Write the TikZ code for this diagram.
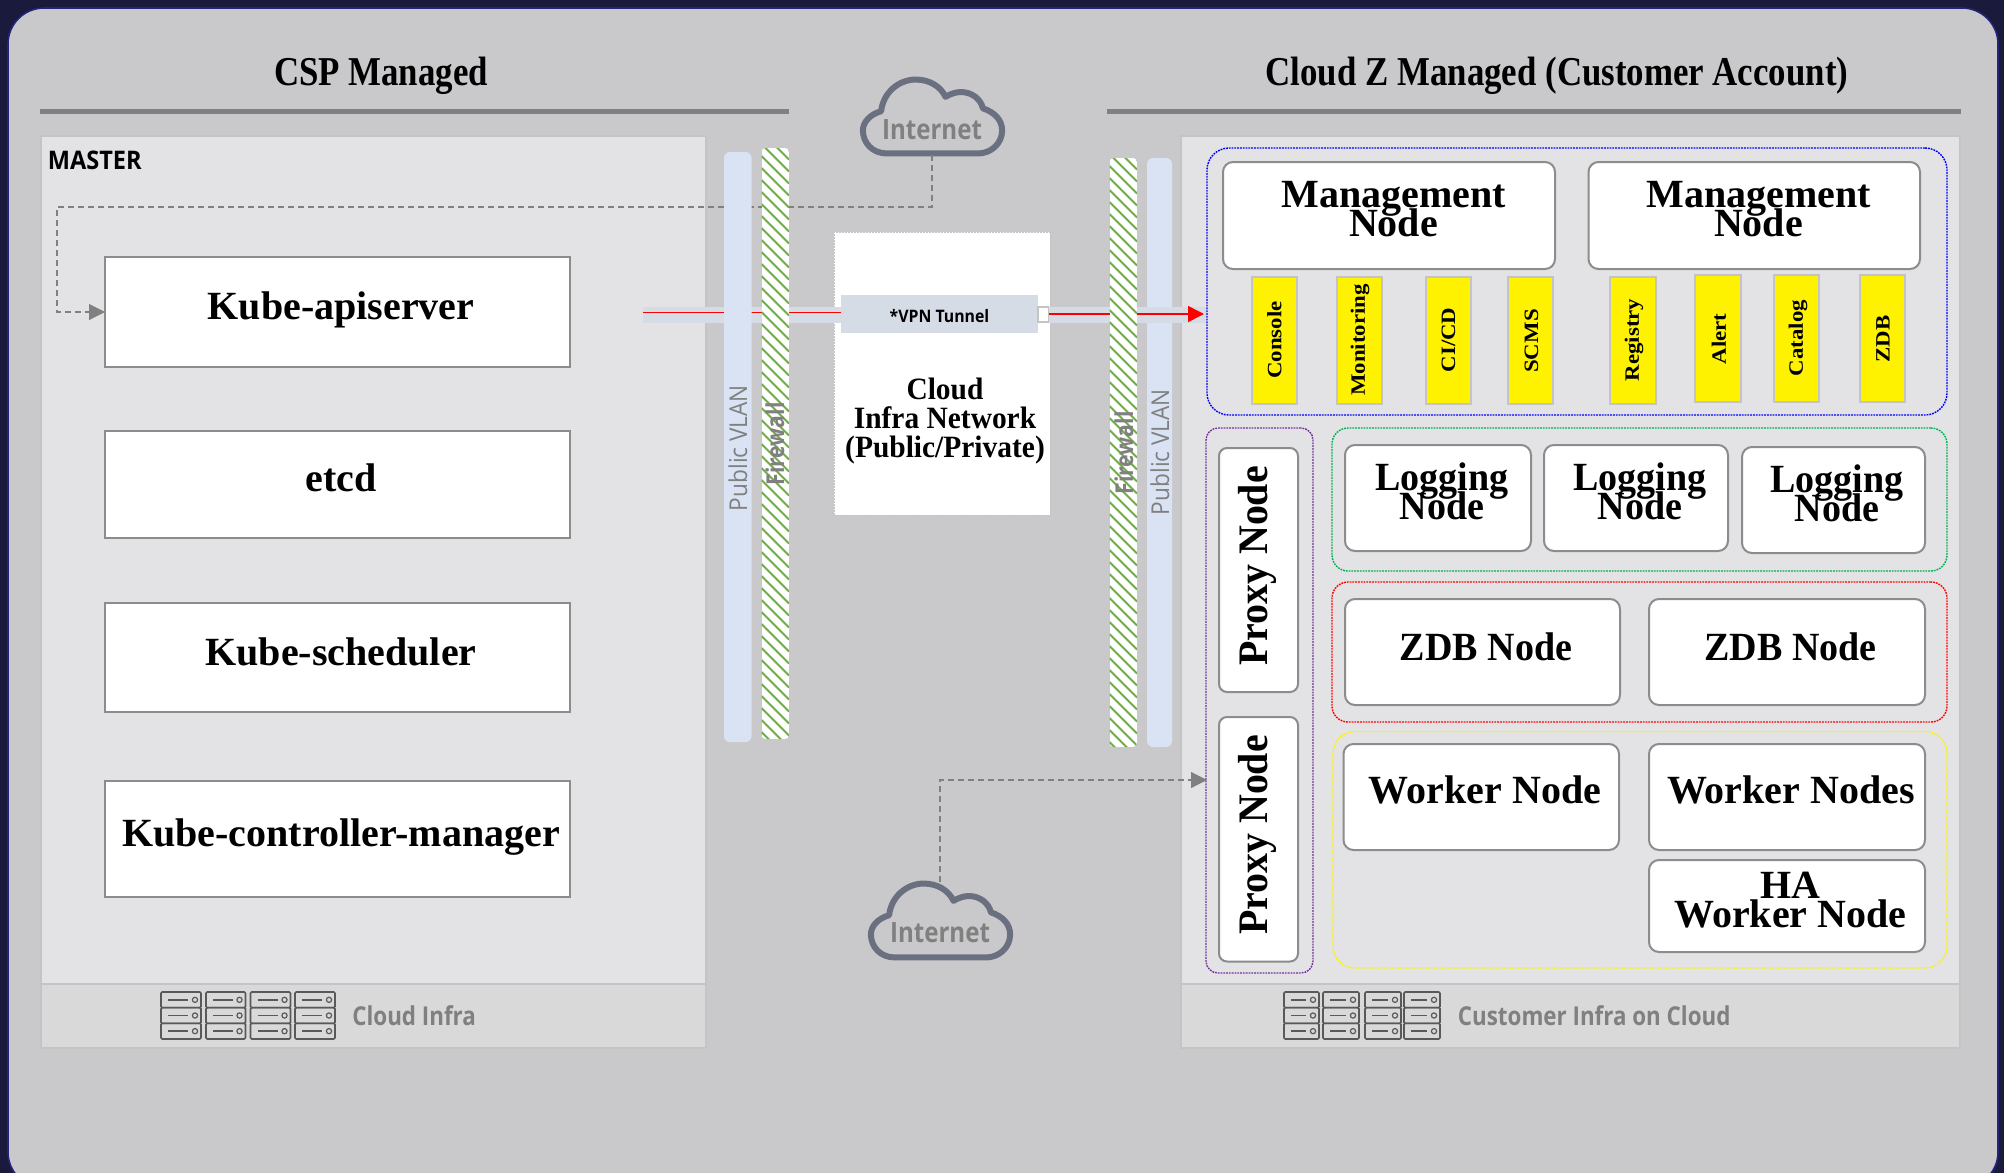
\documentclass[tikz,border=0pt]{standalone}
\usepackage{fontspec}
\usetikzlibrary{arrows.meta,calc}
\setmainfont{Liberation Serif}
\newfontfamily\serc[FakeStretch=0.85]{Liberation Serif}
\newfontfamily\serd[FakeStretch=0.95]{Liberation Serif}
\newfontfamily\sere[FakeStretch=1.12]{Liberation Serif}
\newfontfamily\sers[FakeStretch=0.86]{Open Sans}
\newfontfamily\sersb[FakeStretch=0.92]{Open Sans}
\definecolor{navy}{HTML}{191A3C}
\definecolor{navyedge}{HTML}{24247A}
\definecolor{pagegray}{HTML}{C9C9CB}
\definecolor{panelgray}{HTML}{E3E3E5}
\definecolor{footgray}{HTML}{D9D9D9}
\definecolor{edgegray}{HTML}{C4C4C4}
\definecolor{linegray}{HTML}{808080}
\definecolor{boxedge}{HTML}{8C8C8C}
\definecolor{vlanblue}{HTML}{DAE3F3}
\definecolor{bandblue}{HTML}{D6DCE5}
\definecolor{fwgreen}{HTML}{70AD47}
\definecolor{cloudedge}{HTML}{6B7080}
\definecolor{servedge}{HTML}{595959}
\definecolor{grpgreen}{HTML}{00B050}
\definecolor{grppurple}{HTML}{7030A0}
\tikzset{
  x=0.5pt,y=-0.5pt,
  anybox/.style={inner sep=0pt,outer sep=0pt,line width=1pt},
  sqbox/.style={anybox,draw=boxedge,fill=white},
  rdbox/.style={anybox,draw=boxedge,fill=white,rounded corners=5pt},
  ybox/.style={anybox,draw=edgegray,fill=yellow},
  grp/.style={anybox,line width=0.7pt,dash pattern=on 0.9pt off 0.5pt,rounded corners=11pt},
  panel/.style={anybox,draw=edgegray,fill=panelgray},
  foot/.style={anybox,draw=edgegray,fill=footgray},
  vlan/.style={anybox,fill=vlanblue,rounded corners=3pt},
  head/.style={font=\serc\bfseries\fontsize{20.5pt}{22pt}\selectfont,inner sep=0pt},
  big/.style={font=\bfseries\fontsize{20pt}{14.5pt}\selectfont,inner sep=0pt,align=center,execute at begin node={\lineskiplimit=-50pt\lineskip=0pt}},
  bignar/.style={big,font=\serd\bfseries\fontsize{20pt}{14.5pt}\selectfont},
  tag/.style={font=\sere\bfseries\fontsize{10.2pt}{11pt}\selectfont,inner sep=0pt,rotate=90},
  graytxt/.style={font=\sers\fontsize{12.5pt}{16pt}\selectfont,text=linegray,inner sep=0pt},
  nettxt/.style={graytxt,font=\sers\bfseries\fontsize{14pt}{16pt}\selectfont},
  foottxt/.style={graytxt,anchor=west,font=\sers\bfseries\fontsize{13pt}{15pt}\selectfont},
  dashline/.style={draw=linegray,line width=0.55pt,dash pattern=on 3pt off 2pt,-{Triangle[length=8pt,width=8pt,fill=linegray]}},
  redline/.style={draw=red,line width=0.75pt},
  cloudline/.style={draw=cloudedge,line width=3pt,line join=round},
}
% box given by its corners in reference pixels
\newcommand\pxbox[6]{%
  \pgfmathsetmacro\bw{(#5-#3)*0.5}\pgfmathsetmacro\bh{(#6-#4)*0.5}%
  \pgfmathsetmacro\bx{(#3+#5)/2}\pgfmathsetmacro\by{(#4+#6)/2}%
  \node[#2,minimum width=\bw pt,minimum height=\bh pt] (#1) at (\bx,\by) {};}
\newcommand\cloudpath{(885,155) .. controls (870,155) and (860,144) .. (860,131) .. controls (860,122) and (868,114) .. (879,111) .. controls (881,92) and (897,78) .. (915,78) .. controls (929,78) and (941,85) .. (946,96) .. controls (951,93) and (957,91) .. (962,91) .. controls (974,91) and (983,99) .. (985,108) .. controls (997,112) and (1005,120) .. (1005,131) .. controls (1005,145) and (993,155) .. (980,155) -- cycle}
% firewall strip
\newcommand\fwall[4]{%
  \begin{scope}
    \path[rounded corners=2pt,clip] (#1,#2) rectangle (#3,#4);
    \fill[white] (#1,#2) rectangle (#3,#4);
    \pgfmathtruncatemacro\fwstart{#2-40}
    \pgfmathtruncatemacro\fwnext{#2-40+12}
    \pgfmathtruncatemacro\fwend{#4+40}
    \foreach \yy in {\fwstart,\fwnext,...,\fwend}
      \draw[fwgreen,line width=1pt] (#1,\yy) -- (#3,\yy+#3-#1);
  \end{scope}}
% server rack icon
\newcommand\serv[2]{%
  \foreach \r in {0,1,2}{%
    \pgfmathsetmacro\ya{992+\r*15.67}\pgfmathsetmacro\yb{\ya+15.67}\pgfmathsetmacro\ym{(\ya+\yb)/2}%
    \draw[servedge,line width=0.8pt,rounded corners=0.6pt] (#1,\ya) rectangle (#2,\yb);
    \draw[servedge,line width=0.9pt] (#1+7,\ym) -- (#2-13,\ym);
    \draw[servedge,line width=0.6pt] (#2-6,\ym) circle[radius=2.6];
  }}
\begin{document}
\begin{tikzpicture}
\useasboundingbox (0,0) rectangle (2004,1173);
\fill[navy] (0,0) rectangle (2004,1173);
\begin{scope}
\clip (0,0) rectangle (2004,1173);
\draw[navyedge,fill=pagegray,line width=0.8pt,rounded corners=18pt] (8,8) rectangle (1998,1188);
\end{scope}

% titles
\node[head] (tcsp) at (381,76) {CSP Managed};
\node[head] (tcz) at (1557,76) {Cloud Z Managed (Customer Account)};
\pxbox{rulel}{anybox,fill=linegray,line width=0pt}{40}{108.5}{789}{113.5}
\pxbox{ruler}{anybox,fill=linegray,line width=0pt}{1107}{108.5}{1961}{113.5}

% panels
\pxbox{pmaster}{panel}{40.5}{136}{706}{984}
\pxbox{fmaster}{foot}{40.5}{984}{706}{1048}
\pxbox{pcust}{panel}{1181}{136}{1960}{984}
\pxbox{fcust}{foot}{1181}{984}{1960}{1048}
\node[font=\sersb\bfseries\fontsize{12.8pt}{13pt}\selectfont,anchor=west,inner sep=0pt] (tmaster) at (47.5,160) {MASTER};

% master boxes
\pxbox{api}{sqbox}{105}{257}{570}{367}
\pxbox{etcd}{sqbox}{105}{431}{570}{538}
\pxbox{sched}{sqbox}{105}{603}{570}{712}
\pxbox{ctrl}{sqbox}{105}{781}{570}{897}
\node[big] (tapi) at (341,309.5) {Kube-apiserver};
\node[big] (tetcd) at (341,478) {etcd};
\node[big] (tsched) at (341,652) {Kube-scheduler};
\node[big] (tctrl) at (341,837) {Kube-controller-manager};

% internet clouds
\begin{scope}[shift={(932.5,116.5)},scale=0.96,shift={(-932.5,-116.5)}]
\draw[cloudline] \cloudpath;
\end{scope}
\node[nettxt] (inet1) at (932,130) {Internet};
\begin{scope}[shift={(940.5,920.5)},scale=0.96,shift={(-932.5,-116.5)}]
\draw[cloudline] \cloudpath;
\end{scope}
\node[nettxt] (inet2) at (940,933) {Internet};
\coordinate (cloudA) at (932,155);
\coordinate (cloudB) at (940,882);
\coordinate (viaA) at (57,207);
\coordinate (viaB) at (1207,780);
\draw[dashline] (cloudA) |- (viaA) |- (api.west);
\draw[dashline] (cloudB) |- (viaB);

% central network box
\pxbox{infra}{anybox,fill=white,draw=edgegray,line width=0.5pt,dash pattern=on 1pt off 0.5pt}{834}{232}{1050}{515}
\node[big,font=\serd\bfseries\fontsize{15.5pt}{14.5pt}\selectfont] (tinfra) at (945,421) {Cloud\\Infra Network\\(Public/Private)};

% right VLAN goes under the tunnel
\pxbox{vlanr}{vlan}{1147}{158}{1172}{747}

% tunnel
\pxbox{band}{anybox,fill=bandblue}{642.5}{307}{1207}{323}
\pxbox{vpn}{anybox,fill=bandblue}{841}{295}{1038}{333}
\pxbox{vpnsq}{anybox,fill=white,draw=edgegray,line width=0.6pt}{1038}{307}{1048.5}{322}
\node[font=\sersb\bfseries\fontsize{8.6pt}{10pt}\selectfont,inner sep=0pt] (tvpn) at (939.5,316) {*VPN Tunnel};
\coordinate (tunS) at (642.5,312.5);
\coordinate (tunE) at (1204,314);
\draw[redline] (tunS) -- (tunS -| vpn.west);
\draw[redline,-{Triangle[length=16pt,width=16pt,fill=red,scale=0.5]}] (tunE -| vpnsq.east) -- (tunE);

% VLANs and firewalls over the tunnel
\pxbox{vlanl}{vlan}{724}{152}{751.5}{742}
\fwall{761.5}{148}{789}{739}
\fwall{1109.5}{158}{1137}{747}
\node[graytxt,rotate=90,font=\sersb\fontsize{12.3pt}{16pt}\selectfont] (tvl) at (738,448) {Public VLAN};
\node[graytxt,rotate=90,font=\sersb\fontsize{12.3pt}{16pt}\selectfont] (tvr) at (1160,452) {Public VLAN};
\node[graytxt,rotate=90,font=\sers\bfseries\fontsize{12.3pt}{16pt}\selectfont] (tfl) at (775,444) {Firewall};
\node[graytxt,rotate=90,font=\sers\bfseries\fontsize{12.3pt}{16pt}\selectfont] (tfr) at (1124,453) {Firewall};

% management group
\pxbox{gmgmt}{grp,draw=blue}{1207}{148}{1947}{415}
\pxbox{m1}{rdbox}{1223}{162}{1555}{269}
\pxbox{m2}{rdbox}{1588.5}{162}{1920}{269}
\node[big] (tm1) at (1393.5,209.5) {Management\\Node};
\node[big] (tm2) at (1758.5,209.5) {Management\\Node};
\pxbox{y1}{ybox}{1251.5}{276.5}{1297}{404}
\pxbox{y2}{ybox}{1336.5}{276.5}{1381.5}{404}
\pxbox{y3}{ybox}{1426}{276.5}{1470.5}{404}
\pxbox{y4}{ybox}{1508}{276.5}{1553}{404}
\pxbox{y5}{ybox}{1610}{276.5}{1656}{404}
\pxbox{y6}{ybox}{1695}{275}{1740.5}{402}
\pxbox{y7}{ybox}{1773.5}{275}{1819}{402}
\pxbox{y8}{ybox}{1859.5}{275}{1905}{402}
\node[tag] (ty1) at (1274.5,340) {Console};
\node[tag] (ty2) at (1360,340) {Monitoring};
\node[tag] (ty3) at (1448.5,340) {CI/CD};
\node[tag] (ty4) at (1531.5,341) {SCMS};
\node[tag] (ty5) at (1634,340) {Registry};
\node[tag] (ty6) at (1719,339) {Alert};
\node[tag] (ty7) at (1798,338) {Catalog};
\node[tag] (ty8) at (1883,339) {ZDB};

% proxy group
\pxbox{gproxy}{grp,draw=grppurple,rounded corners=6pt}{1206}{428}{1313}{973}
\pxbox{p1}{rdbox,rounded corners=4pt}{1219}{448}{1298}{692}
\pxbox{p2}{rdbox,rounded corners=4pt}{1219}{717}{1298}{961.5}
\node[bignar,rotate=90,font=\serd\bfseries\fontsize{21pt}{14.5pt}\selectfont] (tp1) at (1257,566) {Proxy Node};
\node[bignar,rotate=90,font=\serd\bfseries\fontsize{21pt}{14.5pt}\selectfont] (tp2) at (1257,835) {Proxy Node};

% logging group
\pxbox{glog}{grp,draw=grpgreen,rounded corners=8pt}{1332}{428}{1947}{571}
\pxbox{l1}{rdbox}{1345}{445}{1531}{551}
\pxbox{l2}{rdbox}{1544}{445}{1728}{551}
\pxbox{l3}{rdbox}{1742}{447}{1925}{553}
\node[bignar] (tl1) at (1442,491.5) {Logging\\Node};
\node[bignar] (tl2) at (1640,491.5) {Logging\\Node};
\node[bignar] (tl3) at (1837,493.5) {Logging\\Node};

% zdb group
\pxbox{gzdb}{grp,draw=red,rounded corners=8pt}{1332}{582}{1947}{722}
\pxbox{z1}{rdbox}{1345}{599}{1620}{705}
\pxbox{z2}{rdbox}{1649}{599}{1925}{705}
\node[bignar] (tz1) at (1486,647) {ZDB Node};
\node[bignar] (tz2) at (1790.5,647) {ZDB Node};

% worker group
\pxbox{gwork}{grp,draw=yellow}{1333}{731.5}{1947}{968}
\pxbox{w1}{rdbox}{1343.5}{744}{1619}{850}
\pxbox{w2}{rdbox}{1649}{744}{1925}{850}
\pxbox{w3}{rdbox}{1649}{860}{1925}{952}
\node[big] (tw1) at (1485,790) {Worker Node};
\node[big] (tw2) at (1791,790) {Worker Nodes};
\node[big] (tw3) at (1790.5,900) {HA\\Worker Node};

% footers
\serv{161}{201}\serv{206}{245.5}\serv{250.5}{290.5}\serv{295}{335}
\node[foottxt] (tfl2) at (352,1016) {Cloud Infra};
\serv{1284}{1319}\serv{1323}{1359}\serv{1365}{1401}\serv{1404}{1440}
\node[foottxt] (tfr2) at (1457.5,1016) {Customer Infra on Cloud};
\end{tikzpicture}
\end{document}
